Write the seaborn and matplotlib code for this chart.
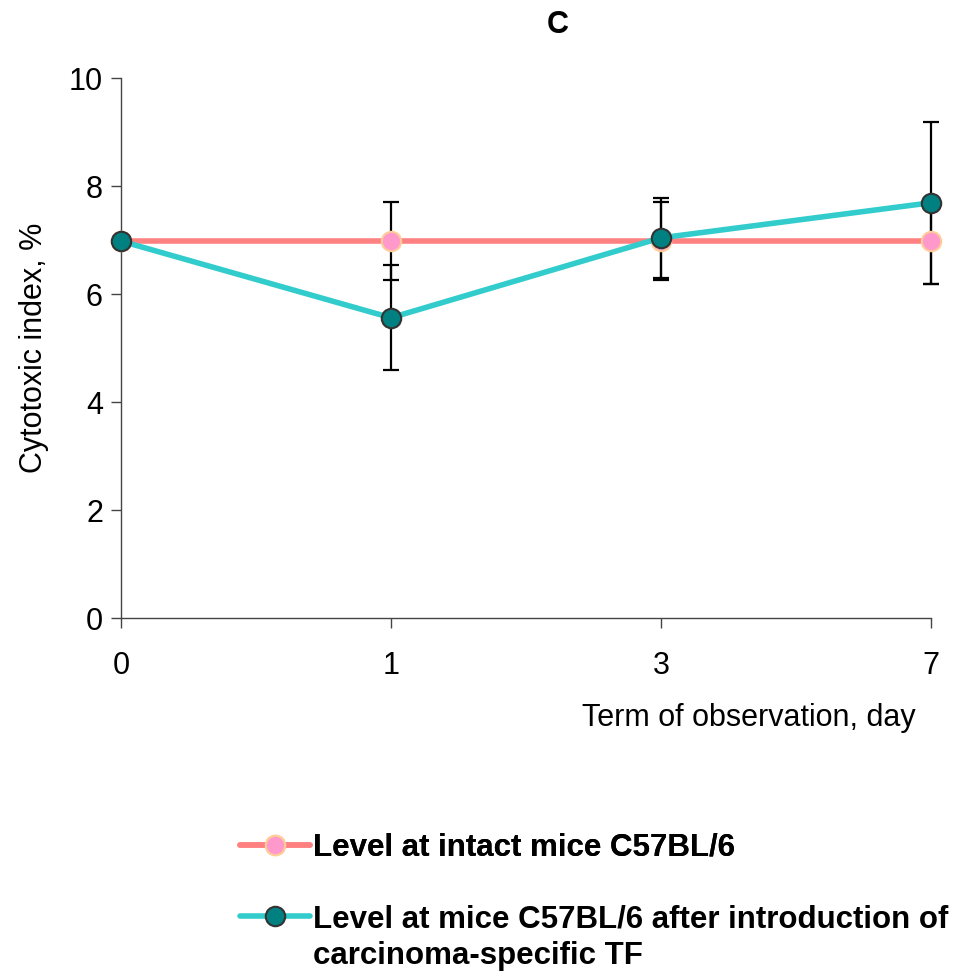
import numpy as np
import pandas as pd
import matplotlib
import seaborn as sns
import matplotlib.pyplot as plt
from matplotlib.lines import Line2D

matplotlib.use('Agg')

days = ['0', '1', '3', '7']
intact = [6.98, 6.98, 6.98, 6.98]
intact_err = [0.0, 0.72, 0.72, 0.80]
tf = [6.98, 5.56, 7.04, 7.69]
tf_err = [0.0, 0.97, 0.74, 1.50]
labels = ['Level at intact mice C57BL/6',
          'Level at mice C57BL/6 after introduction of',
          'carcinoma-specific TF']

sns.set_style('white')
plt.rcParams['font.family'] = ['Liberation Sans', 'DejaVu Sans']
plt.rcParams['text.color'] = 'black'

df = pd.DataFrame({'pos': np.arange(len(days)), 'intact': intact, 'tf': tf})

fig = plt.figure(figsize=(9.55, 9.73), dpi=100)
ax = fig.add_axes([121 / 955, 1 - 618 / 973, 810 / 955, 540 / 973])

for vals, errs in [(intact, intact_err), (tf, tf_err)]:
    eb = ax.errorbar(df['pos'], vals, yerr=errs, fmt='none', ecolor='black',
                     elinewidth=1.6, capsize=6, capthick=1.6, zorder=2)
    for art in eb.lines[1] + eb.lines[2]:
        art.set_clip_on(False)

sns.lineplot(data=df, x='pos', y='intact', ax=ax, color='#FF8080', linewidth=4,
             marker='o', markersize=14, markerfacecolor='#FF99CC',
             markeredgecolor='#FFCC99', markeredgewidth=1.5, zorder=3, clip_on=False)
sns.lineplot(data=df, x='pos', y='tf', ax=ax, color='#33CCCC', linewidth=4,
             marker='o', markersize=14, markerfacecolor='#008080',
             markeredgecolor='#333333', markeredgewidth=1.5, zorder=4, clip_on=False)

ax.set_xlim(0, len(days) - 1)
ax.set_ylim(0, 10)
ax.set_xticks(df['pos'])
ax.set_xticklabels(days)
ax.set_yticks(np.arange(0, 11, 2))
ax.tick_params(axis='both', labelsize=22, length=7, width=1, colors='#444444',
               labelcolor='black', direction='out', bottom=True, left=True)
ax.tick_params(axis='x', pad=17)
ax.tick_params(axis='y', pad=6)
for s in ['top', 'right']:
    ax.spines[s].set_visible(False)
for s in ['left', 'bottom']:
    ax.spines[s].set_color('#444444')
    ax.spines[s].set_linewidth(1)
ax.set_xlabel('')
ax.set_ylabel('Cytotoxic index, %', fontsize=22, labelpad=14, color='black')

fig.text(916 / 955, 1 - 718 / 973, 'Term of observation, day', fontsize=22,
         ha='right', va='center')
fig.text(558 / 955, 1 - 25 / 973, 'C', fontsize=22, fontweight='bold',
         ha='center', va='center')

h_intact = Line2D([], [], color='#FF8080', linewidth=4, marker='o', markersize=14,
                  markerfacecolor='#FF99CC', markeredgecolor='#FFCC99', markeredgewidth=1.5)
h_tf = Line2D([], [], color='#33CCCC', linewidth=4, marker='o', markersize=14,
              markerfacecolor='#008080', markeredgecolor='#333333', markeredgewidth=1.5)
h_none = Line2D([], [], linestyle='none')

leg_kw = dict(frameon=False, handlelength=2.25, handletextpad=0.08,
              borderpad=0, borderaxespad=0, prop={'size': 22.5, 'weight': 'bold'})
leg1 = fig.legend([h_intact], labels[:1], loc='center left',
                  bbox_to_anchor=(240 / 955, 1 - 848 / 973), **leg_kw)
leg2 = fig.legend([h_tf, h_none], labels[1:], loc='upper left',
                  bbox_to_anchor=(240 / 955, 1 - 904 / 973), labelspacing=0.22, **leg_kw)
fig.add_artist(leg1)

fig.savefig('out.png', dpi=100)
